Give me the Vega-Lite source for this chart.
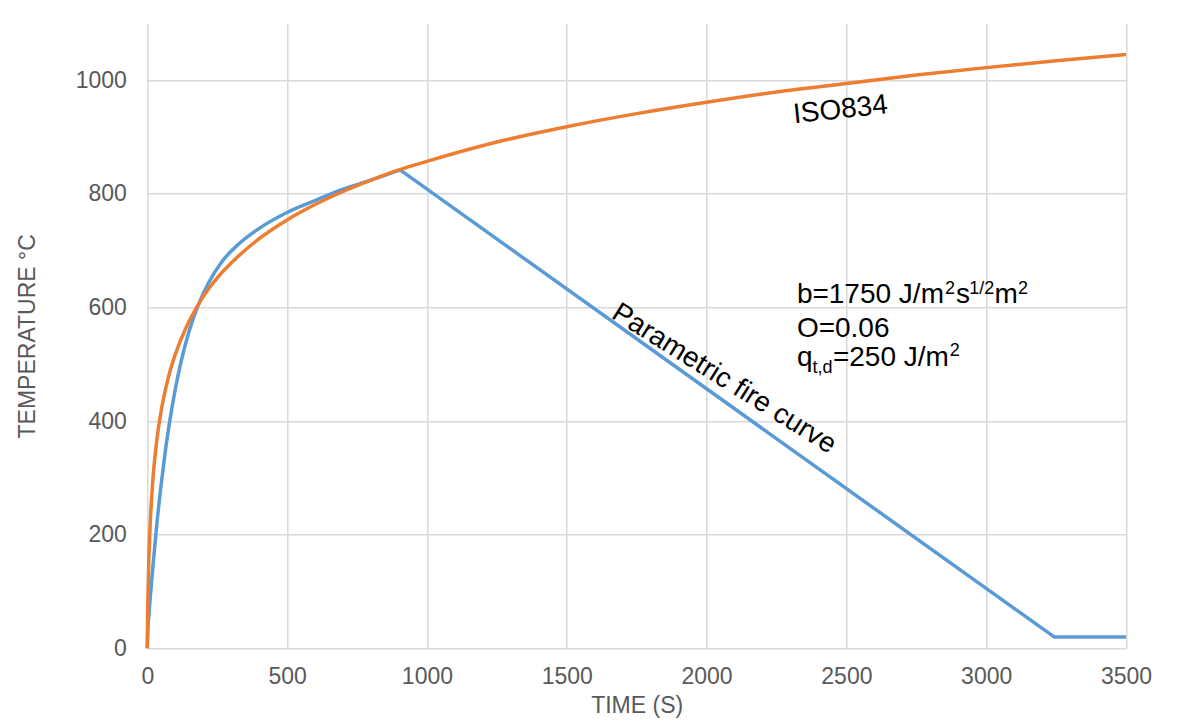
{
  "$schema": "https://vega.github.io/schema/vega-lite/v6.json",
  "width": 978.7,
  "height": 625,
  "autosize": {"type": "none"},
  "padding": {"left": 147.3, "top": 23.3, "right": 77, "bottom": 72.7},
  "background": "white",
  "config": {
    "font": "Liberation Sans",
    "view": {"stroke": null},
    "axis": {
      "gridColor": "#D9D9D9",
      "gridWidth": 1.5,
      "domain": false,
      "ticks": false,
      "tickSize": 0,
      "labelFlush": false,
      "labelColor": "#595959",
      "labelFont": "Liberation Sans",
      "labelFontSize": 23,
      "titleColor": "#595959",
      "titleFont": "Liberation Sans",
      "titleFontSize": 23,
      "titleFontWeight": "normal"
    },
    "text": {"font": "Liberation Sans", "color": "black"}
  },
  "datasets": {
    "heat": [
      {"t": 0, "temp": 0}, {"t": 2, "temp": 34}, {"t": 5, "temp": 54}, {"t": 10, "temp": 86}, {"t": 20, "temp": 144},
      {"t": 35, "temp": 223}, {"t": 50, "temp": 290}, {"t": 65, "temp": 349}, {"t": 81, "temp": 402},
      {"t": 100, "temp": 456}, {"t": 120, "temp": 503}, {"t": 150, "temp": 559}, {"t": 179, "temp": 600},
      {"t": 220, "temp": 644}, {"t": 266, "temp": 680}, {"t": 330, "temp": 713}, {"t": 403, "temp": 740},
      {"t": 500, "temp": 767}, {"t": 600, "temp": 788}, {"t": 700, "temp": 808}, {"t": 800, "temp": 824},
      {"t": 904, "temp": 842}
    ],
    "cool": [
      {"t": 904, "temp": 842}, {"t": 3243, "temp": 20}, {"t": 3500, "temp": 20}
    ],
    "iso": [
      {"t": 0, "temp": 0}, {"t": 1, "temp": 60}, {"t": 2, "temp": 84}, {"t": 5, "temp": 147}, {"t": 10, "temp": 215},
      {"t": 20, "temp": 297}, {"t": 30, "temp": 349}, {"t": 40, "temp": 388}, {"t": 50, "temp": 419}, {"t": 75, "temp": 476},
      {"t": 100, "temp": 517}, {"t": 125, "temp": 549}, {"t": 150, "temp": 576}, {"t": 200, "temp": 619}, {"t": 250, "temp": 652},
      {"t": 300, "temp": 678}, {"t": 400, "temp": 721}, {"t": 500, "temp": 754}, {"t": 600, "temp": 781}, {"t": 700, "temp": 804},
      {"t": 800, "temp": 824}, {"t": 900, "temp": 842}, {"t": 1000, "temp": 857}, {"t": 1250, "temp": 891},
      {"t": 1500, "temp": 918}, {"t": 1750, "temp": 941}, {"t": 2000, "temp": 961}, {"t": 2250, "temp": 979},
      {"t": 2500, "temp": 994}, {"t": 2750, "temp": 1009}, {"t": 3000, "temp": 1022}, {"t": 3250, "temp": 1034},
      {"t": 3500, "temp": 1045}
    ],
    "one": [{}]
  },
  "layer": [
    {
      "data": {"name": "heat"},
      "mark": {"type": "line", "color": "#5B9BD5", "strokeWidth": 3.5, "strokeJoin": "round", "interpolate": "monotone"},
      "encoding": {
        "x": {"field": "t", "type": "quantitative", "title": "TIME (S)",
              "scale": {"domain": [0, 3500], "nice": false, "zero": false},
              "axis": {"values": [0, 500, 1000, 1500, 2000, 2500, 3000, 3500], "format": "d", "labelPadding": 17, "titlePadding": 6}},
        "y": {"field": "temp", "type": "quantitative", "title": "TEMPERATURE °C",
              "scale": {"domain": [0, 1100], "nice": false},
              "axis": {"values": [0, 200, 400, 600, 800, 1000], "format": "d", "labelPadding": 21, "titlePadding": 36}}
      }
    },
    {
      "data": {"name": "cool"},
      "mark": {"type": "line", "color": "#5B9BD5", "strokeWidth": 3.5, "strokeJoin": "round"},
      "encoding": {
        "x": {"field": "t", "type": "quantitative"},
        "y": {"field": "temp", "type": "quantitative"}
      }
    },
    {
      "data": {"name": "iso"},
      "mark": {"type": "line", "color": "#ED7D31", "strokeWidth": 3.5, "strokeJoin": "round", "interpolate": "monotone"},
      "encoding": {
        "x": {"field": "t", "type": "quantitative"},
        "y": {"field": "temp", "type": "quantitative"}
      }
    },
    {
      "data": {"name": "one"},
      "mark": {"type": "text", "text": "ISO834", "fontSize": 28, "angle": -6, "align": "center", "baseline": "middle"},
      "encoding": {"x": {"datum": 2479}, "y": {"datum": 947}}
    },
    {
      "data": {"name": "one"},
      "mark": {"type": "text", "text": "Parametric fire curve", "fontSize": 28, "angle": 32, "align": "center", "baseline": "middle"},
      "encoding": {"x": {"datum": 2062}, "y": {"datum": 474}}
    },
    {
      "data": {"name": "one"},
      "mark": {"type": "text", "text": "b=1750 J/m", "fontSize": 28, "align": "left", "baseline": "alphabetic"},
      "encoding": {"x": {"datum": 2323}, "y": {"datum": 607}}
    },
    {
      "data": {"name": "one"},
      "mark": {"type": "text", "text": "2", "fontSize": 18, "align": "left", "baseline": "alphabetic"},
      "encoding": {"x": {"datum": 2853}, "y": {"datum": 624}}
    },
    {
      "data": {"name": "one"},
      "mark": {"type": "text", "text": "s", "fontSize": 28, "align": "left", "baseline": "alphabetic"},
      "encoding": {"x": {"datum": 2892}, "y": {"datum": 607}}
    },
    {
      "data": {"name": "one"},
      "mark": {"type": "text", "text": "1/2", "fontSize": 18, "align": "left", "baseline": "alphabetic"},
      "encoding": {"x": {"datum": 2939}, "y": {"datum": 624}}
    },
    {
      "data": {"name": "one"},
      "mark": {"type": "text", "text": "m", "fontSize": 28, "align": "left", "baseline": "alphabetic"},
      "encoding": {"x": {"datum": 3030}, "y": {"datum": 607}}
    },
    {
      "data": {"name": "one"},
      "mark": {"type": "text", "text": "2", "fontSize": 18, "align": "left", "baseline": "alphabetic"},
      "encoding": {"x": {"datum": 3114}, "y": {"datum": 624}}
    },
    {
      "data": {"name": "one"},
      "mark": {"type": "text", "text": "O=0.06", "fontSize": 28, "align": "left", "baseline": "alphabetic"},
      "encoding": {"x": {"datum": 2323}, "y": {"datum": 548}}
    },
    {
      "data": {"name": "one"},
      "mark": {"type": "text", "text": "q", "fontSize": 28, "align": "left", "baseline": "alphabetic"},
      "encoding": {"x": {"datum": 2323}, "y": {"datum": 497}}
    },
    {
      "data": {"name": "one"},
      "mark": {"type": "text", "text": "t,d", "fontSize": 18, "align": "left", "baseline": "alphabetic"},
      "encoding": {"x": {"datum": 2379}, "y": {"datum": 485}}
    },
    {
      "data": {"name": "one"},
      "mark": {"type": "text", "text": "=250 J/m", "fontSize": 28, "align": "left", "baseline": "alphabetic"},
      "encoding": {"x": {"datum": 2452}, "y": {"datum": 497}}
    },
    {
      "data": {"name": "one"},
      "mark": {"type": "text", "text": "2", "fontSize": 18, "align": "left", "baseline": "alphabetic"},
      "encoding": {"x": {"datum": 2870}, "y": {"datum": 514}}
    }
  ]
}
